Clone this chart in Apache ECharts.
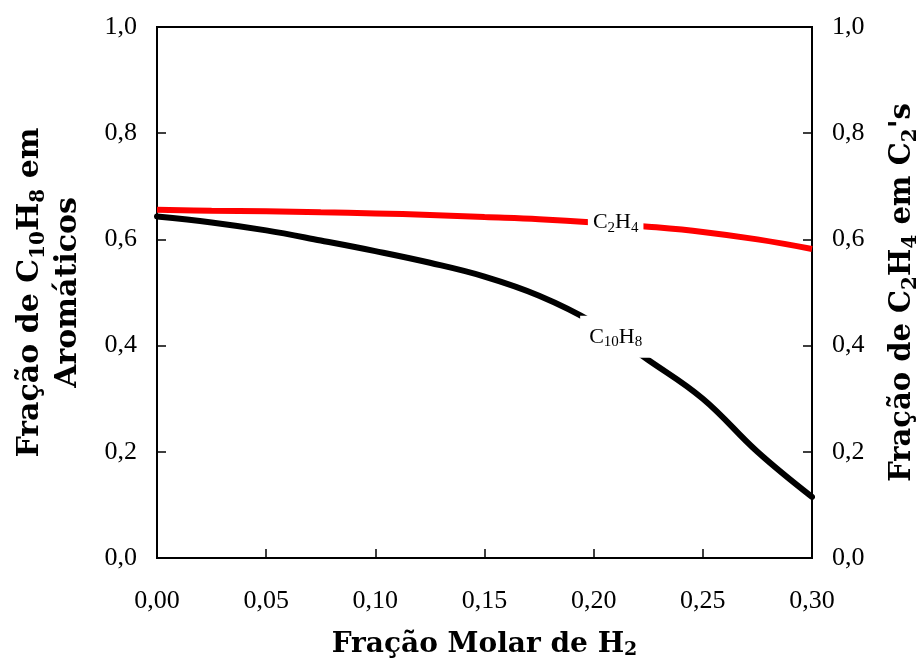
<!DOCTYPE html>
<html>
<head>
<meta charset="utf-8">
<script src="https://cdn.jsdelivr.net/npm/echarts@6/dist/echarts.min.js"></script>
<style>
  html, body { margin: 0; padding: 0; background: #fff; }
  #chart { width: 923px; height: 663px; }
</style>
</head>
<body>
<div id="chart"></div>
<script>
// Molar fraction of H2 in the feed
const h2Fraction = [0.000, 0.025, 0.050, 0.075, 0.100, 0.125, 0.150, 0.175, 0.200, 0.225, 0.250, 0.275, 0.300];
// Fraction of C10H8 among aromatics (left axis)
const naphthalene = [0.643, 0.632, 0.617, 0.598, 0.578, 0.556, 0.530, 0.494, 0.443, 0.373, 0.300, 0.200, 0.115];
// Fraction of C2H4 among C2's (right axis)
const ethylene = [0.656, 0.654, 0.653, 0.651, 0.649, 0.646, 0.642, 0.638, 0.632, 0.624, 0.614, 0.600, 0.582];
// Index of the point each curve label sits on
const labelIndex = 8;

const serif = '"Liberation Serif", "DejaVu Serif", serif';
const boldSerif = '"DejaVu Serif", "Liberation Serif", serif';

// subscripts in the rotated axis titles (line height 38)
const titleRich = {
  s: { fontFamily: boldSerif, fontWeight: 'bold', fontSize: 20, lineHeight: 26, verticalAlign: 'bottom', color: '#000' }
};
// subscript in the x axis title (line height 30)
const xTitleRich = {
  s: { fontFamily: boldSerif, fontWeight: 'bold', fontSize: 19, lineHeight: 18, verticalAlign: 'bottom', color: '#000' }
};
// subscripts in the curve labels (line height 26)
const labelRich = {
  s: { fontFamily: serif, fontSize: 15, lineHeight: 12, verticalAlign: 'bottom', color: '#000' }
};

function fmt(d) { return v => v.toFixed(d).replace('.', ','); }

function buildData(values, label) {
  return h2Fraction.map((x, i) => {
    const item = { value: [x, values[i]] };
    if (i === labelIndex) item.label = label;
    return item;
  });
}

const chart = echarts.init(document.getElementById('chart'), null, { renderer: 'canvas' });

const valueAxisY = (pos, name, gap, size) => ({
  type: 'value',
  position: pos,
  min: 0, max: 1, interval: 0.2,
  name: name,
  nameLocation: 'middle',
  nameRotate: 90,
  nameGap: gap,
  nameTextStyle: {
    fontFamily: boldSerif, fontWeight: 'bold', fontSize: size, color: '#000',
    lineHeight: 38, align: 'center', rich: titleRich
  },
  axisLine: { show: true, lineStyle: { color: '#000', width: 2 } },
  axisTick: { show: true, inside: true, length: 9, lineStyle: { color: '#000', width: 1.5 } },
  axisLabel: { formatter: fmt(1), fontFamily: serif, fontSize: 26, color: '#000', margin: 20 },
  splitLine: { show: false }
});

chart.setOption({
  animation: false,
  backgroundColor: '#fff',
  grid: {
    left: 157, right: 111, top: 27, bottom: 105,
    containLabel: false, outerBoundsMode: 'none',
    show: true, borderColor: '#000', borderWidth: 2, backgroundColor: 'transparent'
  },
  xAxis: {
    type: 'value',
    min: 0, max: 0.3, interval: 0.05,
    name: 'Fração Molar de H{s|2}',
    nameLocation: 'middle',
    nameGap: 72,
    nameTextStyle: { fontFamily: boldSerif, fontWeight: 'bold', fontSize: 28, lineHeight: 30, color: '#000', rich: xTitleRich },
    axisLine: { show: true, lineStyle: { color: '#000', width: 2 } },
    axisTick: { show: true, inside: true, length: 9, lineStyle: { color: '#000', width: 1.5 } },
    axisLabel: { formatter: fmt(2), fontFamily: serif, fontSize: 26, color: '#000', margin: 30 },
    splitLine: { show: false }
  },
  yAxis: [
    valueAxisY('left', 'Fração de C{s|10}H{s|8} em\nAromáticos', 70, 30),
    valueAxisY('right', "Fração de C{s|2}H{s|4} em C{s|2}'s", 71, 29)
  ],
  series: [
    {
      type: 'line',
      yAxisIndex: 0,
      data: buildData(naphthalene, {
        show: true, position: 'inside', offset: [22, 14],
        formatter: 'C{s|10}H{s|8}',
        fontFamily: serif, fontSize: 22, lineHeight: 26, color: '#000',
        backgroundColor: '#fff', padding: [8, 9], rich: labelRich
      }),
      smooth: 0.4,
      showSymbol: true,
      symbol: 'circle',
      symbolSize: 0,
      lineStyle: { color: '#000', width: 6, cap: 'round' },
      itemStyle: { color: '#000' },
      z: 3
    },
    {
      type: 'line',
      yAxisIndex: 1,
      data: buildData(ethylene, {
        show: true, position: 'inside', offset: [22, 0],
        formatter: 'C{s|2}H{s|4}',
        fontFamily: serif, fontSize: 22, lineHeight: 26, color: '#000',
        backgroundColor: '#fff', padding: [1, 5], rich: labelRich
      }),
      smooth: 0.4,
      showSymbol: true,
      symbol: 'circle',
      symbolSize: 0,
      lineStyle: { color: '#ff0000', width: 6 },
      itemStyle: { color: '#ff0000' },
      z: 2
    }
  ]
});
</script>
</body>
</html>
